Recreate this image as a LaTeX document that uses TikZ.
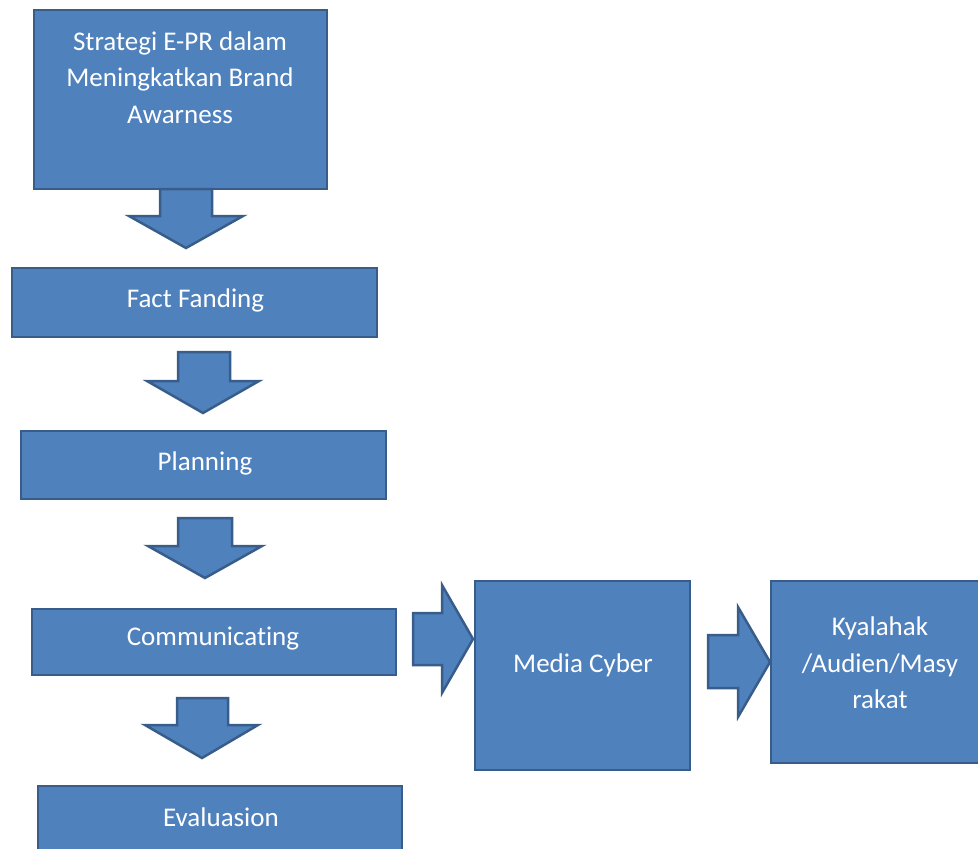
\documentclass[tikz,border=0pt]{standalone}
\usepackage{fontspec}
\setmainfont[Ligatures=NoCommon]{Carlito}
\definecolor{boxfill}{HTML}{4F81BD}
\definecolor{boxline}{HTML}{385D8A}
\tikzset{
  box/.style={draw=boxline, fill=boxfill, line width=2.5pt, inner sep=0pt},
  lbl/.style={text=white, font=\fontsize{27}{36.5}\selectfont, align=center, inner sep=0pt},
  blk/.style={draw=boxline, fill=boxfill, line width=2.5pt, line join=miter}
}
\begin{document}
\begin{tikzpicture}[x=1pt,y=-1pt]
\useasboundingbox (0,0) rectangle (978,849);
\clip (0,0) rectangle (978,849);
% boxes
\node[box, minimum width=293pt, minimum height=179pt] (s) at (180.5,99.5) {};
\node[box, minimum width=365pt, minimum height=69pt] (f) at (194.5,302.5) {};
\node[box, minimum width=365pt, minimum height=68pt] (p) at (203.5,465) {};
\node[box, minimum width=364pt, minimum height=66pt] (c) at (214,642) {};
\node[box, minimum width=364pt, minimum height=90pt] (e) at (220,831) {};
\node[box, minimum width=215pt, minimum height=189pt] (m) at (582.5,675.5) {};
\node[box, minimum width=240pt, minimum height=182pt] (k) at (891,672) {};
% labels
\node[lbl] (st) at (180,77.5) {Strategi E-PR dalam\\Meningkatkan Brand\\Awarness};
\node[lbl] (ft) at (195.5,300) {Fact Fanding};
\node[lbl] (pt) at (205,463) {Planning};
\node[lbl] (ct) at (213,639) {Communicating};
\node[lbl] (et) at (221,817) {Evaluasion};
\node[lbl] (mt) at (583,665) {Media Cyber};
\node[lbl] (kt) at (880,663) {Kyalahak\\/Audien/Masy\\rakat};
% block arrows
\draw[blk] (160,189) -- (212,189) -- (212,216) -- (243,216) -- (186,248) -- (129,216) -- (160,216) -- cycle;
\draw[blk] (178,352) -- (230,352) -- (230,381) -- (259,381) -- (203,413) -- (147,381) -- (178,381) -- cycle;
\draw[blk] (178,518) -- (232,518) -- (232,546) -- (262,546) -- (205,578) -- (148,546) -- (178,546) -- cycle;
\draw[blk] (177,698) -- (228,698) -- (228,725) -- (258,725) -- (202,758) -- (145,725) -- (177,725) -- cycle;
\draw[blk] (413,613) -- (442,613) -- (442,585) -- (473,639) -- (442,693) -- (442,665) -- (413,665) -- cycle;
\draw[blk] (708,635) -- (738,635) -- (738,607) -- (770,662) -- (738,717) -- (738,688) -- (708,688) -- cycle;
\end{tikzpicture}
\end{document}
